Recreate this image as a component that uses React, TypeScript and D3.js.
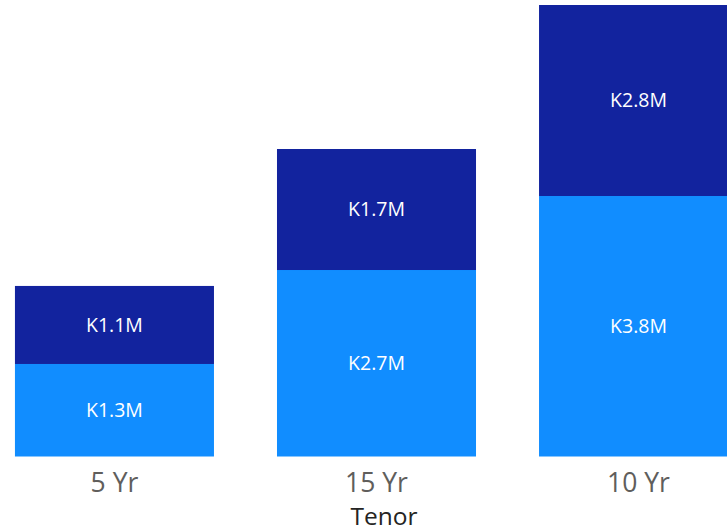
import React from "react";
import * as d3 from "d3";

const categories = ["5 Yr", "15 Yr", "10 Yr"];
const seriesNames = ["Lower", "Upper"];
const lowerValues = [1335000, 2691000, 3759000];
const upperValues = [1126000, 1746000, 2756000];
const axisTitle = "Tenor";

const W = 727;
const H = 532;
const colors = ["#118DFF", "#12239E"];
const FONT = "'Segoe UI', 'Open Sans', 'Noto Sans', sans-serif";

export default function App() {
  const rows = categories.map((c, i) => ({ cat: c, Lower: lowerValues[i], Upper: upperValues[i] }));
  const stack = d3.stack<any>().keys(seriesNames);
  const layers = stack(rows);
  const maxTotal = d3.max(rows, (r) => r.Lower + r.Upper) as number;

  const x = d3
    .scaleBand<string>()
    .domain(categories)
    .range([-16.5, 769.5])
    .paddingInner(0.2405)
    .paddingOuter(0.12);
  const y = d3.scaleLinear().domain([0, maxTotal]).range([456.5, 5]);

  const fmt = (v: number) => "K" + (v / 1e6).toFixed(1) + "M";

  return (
    <div style={{ position: "fixed", left: 0, top: 0, width: W, height: H, background: "#fff" }}>
      <svg width={W} height={H} style={{ display: "block", fontFamily: FONT }}>
        {layers.map((layer, li) => (
          <g key={li}>
            {layer.map((d, i) => {
              const cat = categories[i];
              const x0 = x(cat) as number;
              const y0 = y(d[1]);
              const y1 = y(d[0]);
              return (
                <g key={cat}>
                  <rect x={x0} y={y0} width={x.bandwidth()} height={y1 - y0} fill={colors[li]} />
                  <text
                    x={x0 + x.bandwidth() / 2}
                    y={(y0 + y1) / 2}
                    dy="0.35em"
                    textAnchor="middle"
                    fill="#FFFFFF"
                    fontSize={19.5}
                  >
                    {fmt(d[1] - d[0])}
                  </text>
                </g>
              );
            })}
          </g>
        ))}
        {categories.map((c) => (
          <text
            key={c}
            x={(x(c) as number) + x.bandwidth() / 2}
            y={492}
            textAnchor="middle"
            fill="#605E5C"
            fontSize={26.5}
          >
            {c}
          </text>
        ))}
        <text x={384} y={525} textAnchor="middle" fill="#252423" fontSize={24.5}>
          {axisTitle}
        </text>
      </svg>
    </div>
  );
}
